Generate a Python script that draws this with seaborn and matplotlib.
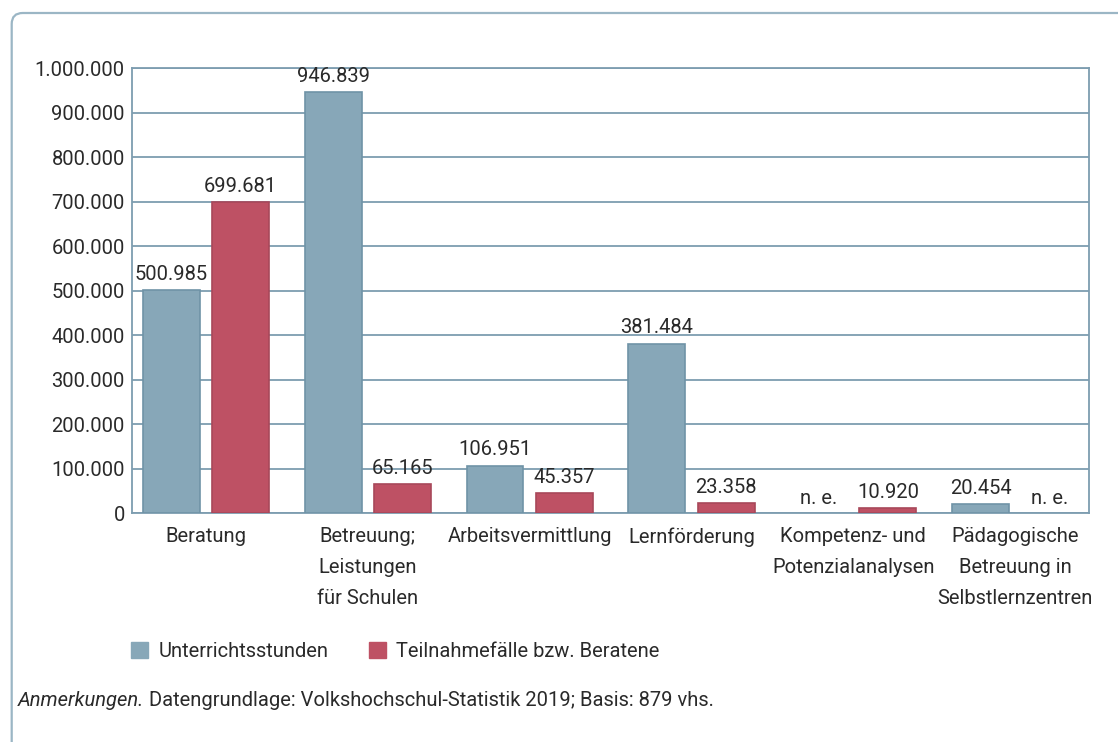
import numpy as np
import pandas as pd
import seaborn as sns
import matplotlib.pyplot as plt
from matplotlib.patches import FancyBboxPatch, Patch
from matplotlib.transforms import IdentityTransform
from matplotlib.ticker import FuncFormatter

categories = ['Beratung', 'Betreuung;\nLeistungen\nfür Schulen', 'Arbeitsvermittlung',
              'Lernförderung', 'Kompetenz- und\nPotenzialanalysen',
              'Pädagogische\nBetreuung in\nSelbstlernzentren']
series = ['Unterrichtsstunden', 'Teilnahmefälle bzw. Beratene']
stunden = [500985, 946839, 106951, 381484, np.nan, 20454]
teilnahme = [699681, 65165, 45357, 23358, 10920, np.nan]
yticks = [0, 100000, 200000, 300000, 400000, 500000, 600000, 700000, 800000, 900000, 1000000]

colors = ['#87a7b8', '#be5164']
edges = ['#6f93a7', '#a8485a']
line_col = '#7d9db0'
frame_col = '#9bb6c5'
text_col = '#2a2a2a'
fs = 14.5


def de_num(v, pos=None):
    return f'{v:,.0f}'.replace(',', '.')


df = pd.DataFrame({
    'Kategorie': categories * 2,
    'Reihe': [series[0]] * 6 + [series[1]] * 6,
    'Wert': stunden + teilnahme,
})

sns.set_style('white')
plt.rcParams['font.family'] = ['Roboto', 'DejaVu Sans']
plt.rcParams['text.color'] = text_col

fig = plt.figure(figsize=(11.18, 7.42), dpi=100)
ax = fig.add_axes([0.1178, 0.3082, 0.8563, 0.5997])

sns.barplot(data=df, x='Kategorie', y='Wert', hue='Reihe', order=categories,
            hue_order=series, palette=colors, width=0.856, gap=0.178,
            linewidth=1.2, saturation=1, legend=False, ax=ax, zorder=3)

for cont, ec in zip(ax.containers, edges):
    for p in cont:
        p.set_edgecolor(ec)
    ax.bar_label(cont, labels=[de_num(p.get_height()) for p in cont],
                 padding=4.5, fontsize=fs, color=text_col)

# "n. e." where no value was collected
offsets = [-0.214, 0.214]
for s, vals in enumerate([stunden, teilnahme]):
    for i, v in enumerate(vals):
        if np.isnan(v):
            ax.annotate('n. e.', (i + offsets[s], 0), xytext=(0, 4),
                        textcoords='offset points', ha='center', va='bottom',
                        fontsize=fs, color=text_col)

ax.set_xlim(-0.459, 5.457)
ax.set_ylim(0, 1000000)
ax.set_yticks(yticks)
ax.yaxis.set_major_formatter(FuncFormatter(de_num))
ax.grid(axis='y', color=line_col, linewidth=1.3, zorder=0)
ax.set_axisbelow(True)
for sp in ax.spines.values():
    sp.set_color(line_col)
    sp.set_linewidth(1.3)
ax.tick_params(axis='both', length=0, labelsize=fs, labelcolor=text_col)
ax.tick_params(axis='x', pad=10)
ax.tick_params(axis='y', pad=5)
ax.set_xlabel('')
ax.set_ylabel('')
for lab in ax.get_xticklabels():
    lab.set_linespacing(1.8)

handles = [Patch(facecolor=c, edgecolor=c) for c in colors]
fig.legend(handles, series, loc='center left', bbox_to_anchor=(0.101, 0.122),
           ncol=2, frameon=False, fontsize=fs, handlelength=0.85, handleheight=0.85,
           handletextpad=0.5, columnspacing=2.0)

t1 = fig.text(18 / 1118, 1 - 700 / 742, 'Anmerkungen.', style='italic',
              fontsize=fs, va='center', ha='left')
plt.annotate(' Datengrundlage: Volkshochschul-Statistik 2019; Basis: 879 vhs.',
             xy=(1, 0.5), xycoords=t1, va='center', ha='left', fontsize=fs,
             annotation_clip=False)

# outer frame: only the top and left edges fall inside the image
frame = FancyBboxPatch((11.7, -30), 1200, 759,
                       boxstyle='round,pad=0,rounding_size=11',
                       transform=IdentityTransform(), facecolor='none',
                       edgecolor=frame_col, linewidth=1.6)
fig.patches.append(frame)

fig.savefig('out.png', dpi=100)
